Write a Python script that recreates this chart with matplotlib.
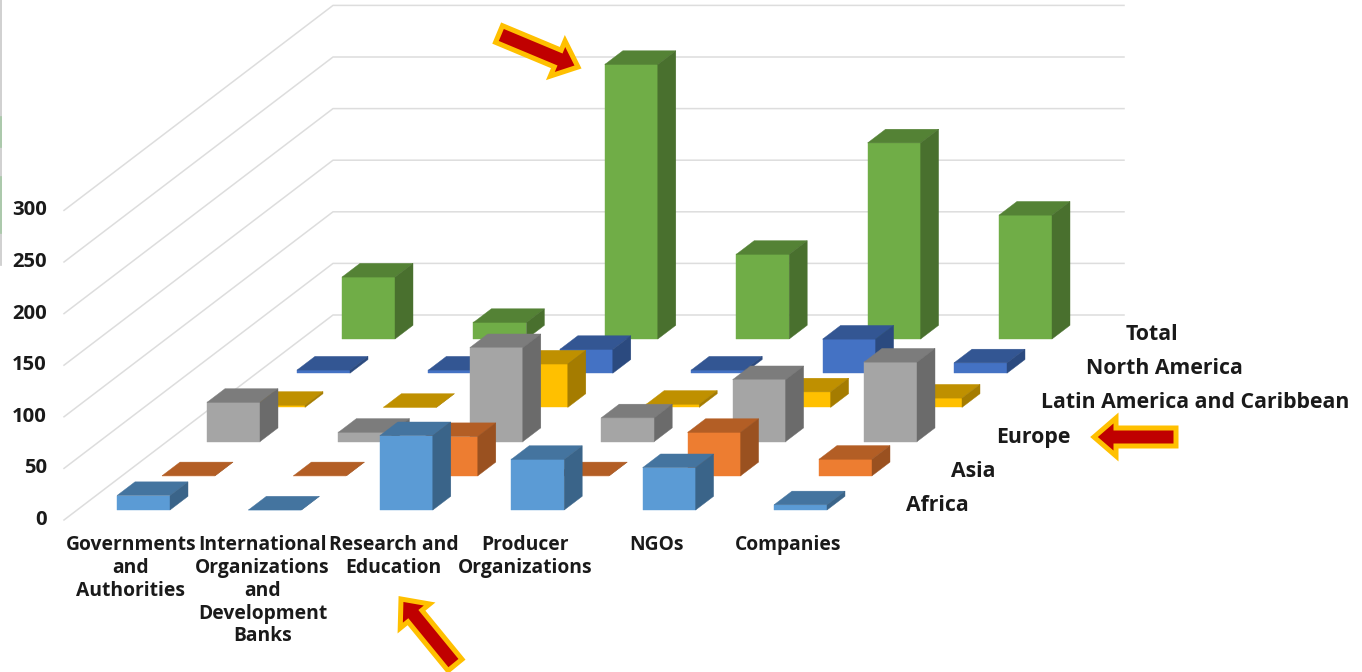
import matplotlib
matplotlib.use('Agg')
import matplotlib.pyplot as plt
import numpy as np
from matplotlib.patches import Polygon

categories = ['Governments\nand\nAuthorities', 'International\nOrganizations\nand\nDevelopment\nBanks',
              'Research and\nEducation', 'Producer\nOrganizations', 'NGOs', 'Companies']
regions = ['Africa', 'Asia', 'Europe', 'Latin America and Caribbean', 'North America', 'Total']
ticks = [0, 50, 100, 150, 200, 250, 300]

africa = [14, 0, 72, 49, 41, 5]
asia = [0, 0, 38, 0, 42, 16]
europe = [38, 9, 91, 23, 60, 77]
latin = [2, 0, 42, 3, 15, 9]
north_america = [3, 3, 23, 3, 33, 10]
total = [60, 16, 266, 82, 190, 120]
series = [africa, asia, europe, latin, north_america, total]

# front, top, side
colors = [('#5B9BD5', '#44749F', '#3A6489'),
          ('#ED7D31', '#B35E25', '#9A5120'),
          ('#A5A5A5', '#7C7C7C', '#6B6B6B'),
          ('#FFC000', '#BF9000', '#A57C00'),
          ('#4472C4', '#335693', '#2B4A7F'),
          ('#70AD47', '#548235', '#49702E')]

# oblique projection in pixels
X0, Y0 = 117, 510
COL_DX, ROW_DX, ROW_DY = 131.4, 45, 34.2
BAR_W, DEPTH_X, DEPTH_Y = 53, 18, 13.7
SCALE = 1.032


def proj(col, row, val):
    return X0 + col * COL_DX + row * ROW_DX, Y0 - row * ROW_DY - val * SCALE


def arrow(ax, tail, tip, shaft=18, head=38, head_len=22):
    tail, tip = np.array(tail, float), np.array(tip, float)
    d = (tip - tail) / np.hypot(*(tip - tail))
    n = np.array([-d[1], d[0]])
    neck = tip - d * head_len
    pts = [tail + n * shaft / 2, neck + n * shaft / 2, neck + n * head / 2, tip,
           neck - n * head / 2, neck - n * shaft / 2, tail - n * shaft / 2]
    ax.add_patch(Polygon(pts, closed=True, fc='#C00000', ec='#FFC000', lw=3.6, joinstyle='miter', zorder=10))


fig = plt.figure(figsize=(13.62, 6.72), dpi=100)
ax = fig.add_axes([0, 0, 1, 1])
ax.set_xlim(0, 1362)
ax.set_ylim(672, 0)
ax.axis('off')

font = dict(family='Open Sans', fontweight='bold', color='#1a1a1a')

# left edge leftover
ax.plot([0.5, 0.5], [0, 265], color='#c8c8c8', lw=1.2)
ax.plot([0.5, 0.5], [117, 147], color='#a5c8a5', lw=1.2)
ax.plot([0.5, 0.5], [177, 233], color='#a5c8a5', lw=1.2)

# gridlines: floor left edge, then back wall
for t in ticks:
    y_left = 520 - t * SCALE
    y_back = 315 - t * SCALE
    ax.plot([64, 333, 1124], [y_left, y_back, y_back], color='#DDDDDD', lw=1.1, zorder=1)
    ax.text(47, y_left, str(t), ha='right', va='center', fontsize=14.6, **font)

# back rows first so the front rows cover them
for row in range(len(series) - 1, -1, -1):
    front, top, side = colors[row]
    for col, val in enumerate(series[row]):
        x, y = proj(col, row, 0)
        h = val * SCALE
        faces = [
            ([(x, y), (x + BAR_W, y), (x + BAR_W, y - h), (x, y - h)], front),
            ([(x, y - h), (x + BAR_W, y - h), (x + BAR_W + DEPTH_X, y - h - DEPTH_Y), (x + DEPTH_X, y - h - DEPTH_Y)], top),
            ([(x + BAR_W, y), (x + BAR_W + DEPTH_X, y - DEPTH_Y), (x + BAR_W + DEPTH_X, y - h - DEPTH_Y), (x + BAR_W, y - h)], side),
        ]
        for pts, c in faces:
            ax.add_patch(Polygon(pts, closed=True, fc=c, ec=c, lw=0.3, zorder=2 + (5 - row)))

# region labels stepping back along the depth axis
for row, name in enumerate(regions):
    x, y = proj(0, row, 0)
    if name == 'Total':
        x -= 5
    ax.text(x + 789, y - 4.5, name, ha='left', va='center', fontsize=15.3, **font)

# category labels
for col, name in enumerate(categories):
    x, _ = proj(col, 0, 0)
    ax.text(x + 14, 535, name, ha='center', va='top', fontsize=13.9, linespacing=1.19, **font)

arrow(ax, (499, 34), (578, 67))
arrow(ax, (1176, 437), (1094, 437))
arrow(ax, (455, 665), (401, 599))

fig.savefig('out.png', dpi=100)
